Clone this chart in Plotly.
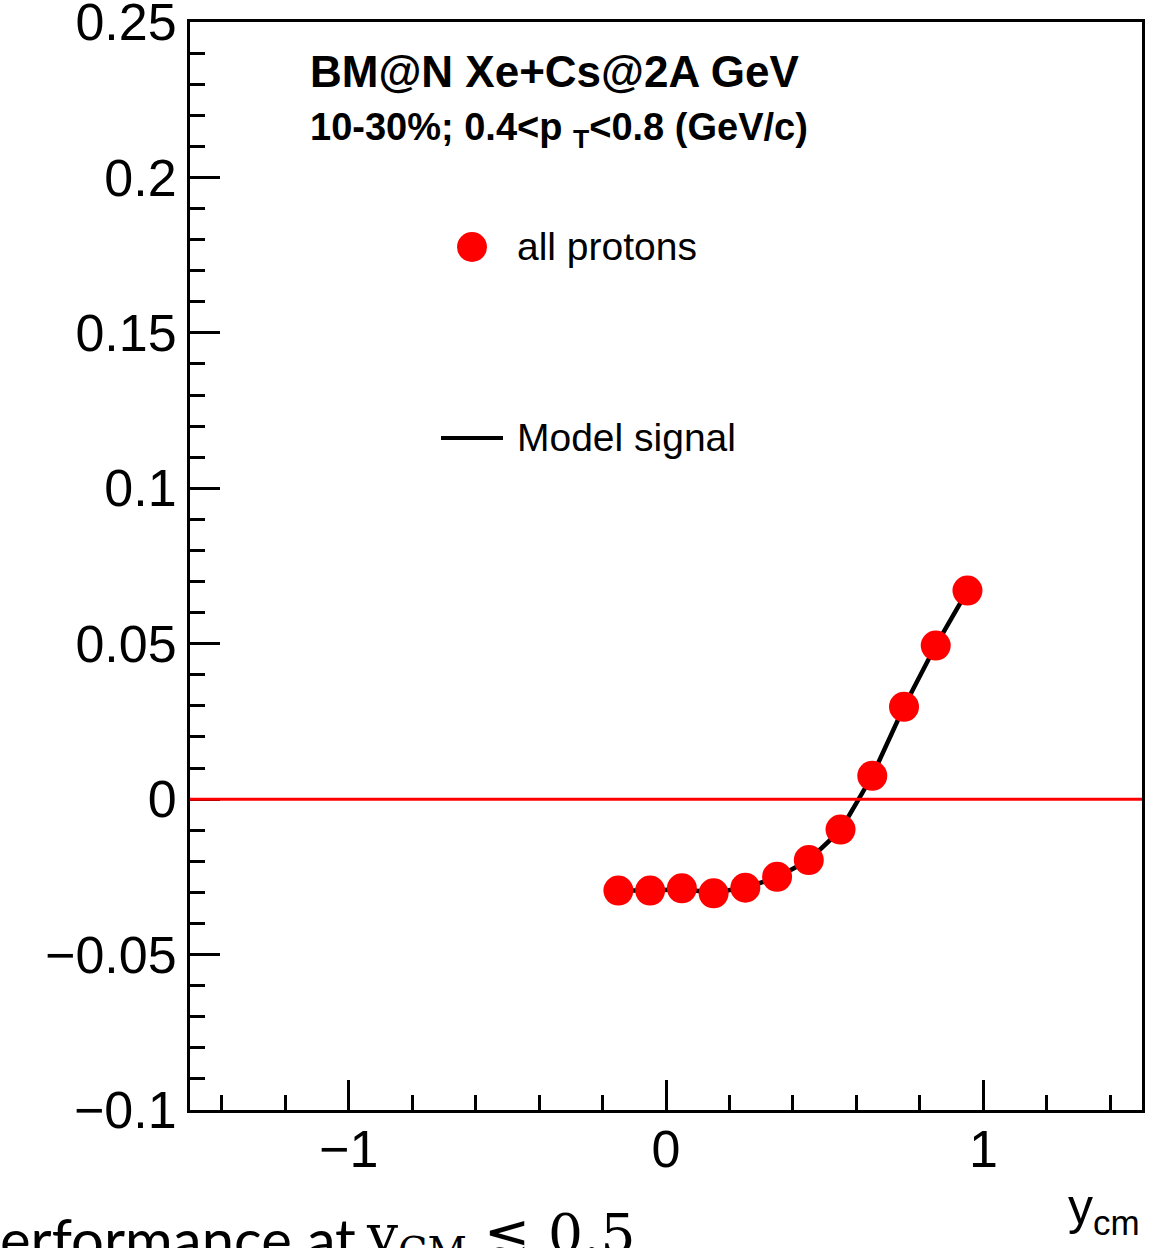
import plotly.graph_objects as go

# data
y_cm = [-0.15, -0.05, 0.05, 0.15, 0.25, 0.35, 0.45, 0.55, 0.65, 0.75, 0.85, 0.95]
v1_protons = [-0.0294, -0.0294, -0.0287, -0.0303, -0.0285, -0.0250, -0.0196, -0.0098, 0.0075, 0.0297, 0.0494, 0.0671]
model_x = [-0.15, -0.05, 0.05, 0.15, 0.25, 0.35, 0.45, 0.55, 0.65, 0.75, 0.85, 0.95]
model_y = [-0.0294, -0.0294, -0.0290, -0.0300, -0.0285, -0.0252, -0.0196, -0.0100, 0.0075, 0.0297, 0.0494, 0.0671]
x_ticks = [-1, 0, 1]
y_ticks = [-0.1, -0.05, 0, 0.05, 0.1, 0.15, 0.2, 0.25]
y_tick_text = ["\u22120.1", "\u22120.05", "0", "0.05", "0.1", "0.15", "0.2", "0.25"]
x_tick_text = ["\u22121", "0", "1"]

FONT = "Liberation Sans"

fig = go.Figure()
fig.add_trace(go.Scatter(x=model_x, y=model_y, mode="lines", name="Model signal",
                         line=dict(color="black", width=4.5), showlegend=False))
fig.add_trace(go.Scatter(x=y_cm, y=v1_protons, mode="markers", name="all protons",
                         marker=dict(color="#ff0000", size=30, line=dict(width=0)),
                         showlegend=False))

# zero line
fig.add_shape(type="line", xref="paper", yref="y", x0=0, x1=1, y0=0, y1=0,
              line=dict(color="#ff0000", width=3), layer="above")

# manual legend symbols
fig.add_shape(type="circle", xref="paper", yref="paper", xsizemode="pixel", ysizemode="pixel",
              xanchor=(472 - 190) / 952, yanchor=(1110 - 247) / 1088,
              x0=-15, x1=15, y0=-15, y1=15, fillcolor="#ff0000", line=dict(width=0))
fig.add_shape(type="line", xref="paper", yref="paper",
              x0=(441 - 190) / 952, x1=(503 - 190) / 952,
              y0=(1110 - 438) / 1088, y1=(1110 - 438) / 1088,
              line=dict(color="black", width=4))

ann = []
ann.append(dict(text="<b>BM@N Xe+Cs@2A GeV</b>", x=(308 - 190) / 952, y=(1110 - 72) / 1088,
                xref="paper", yref="paper", xanchor="left", yanchor="middle", showarrow=False,
                font=dict(family=FONT, size=44, color="black")))
ann.append(dict(text="<b>10-30%; 0.4&lt;p <sub>T</sub>&lt;0.8 (GeV/c)</b>", x=(308 - 190) / 952,
                y=(1110 - 130) / 1088,
                xref="paper", yref="paper", xanchor="left", yanchor="middle", showarrow=False,
                font=dict(family=FONT, size=38, color="black")))
ann.append(dict(text="all protons", x=(515 - 190) / 952, y=(1110 - 246) / 1088,
                xref="paper", yref="paper", xanchor="left", yanchor="middle", showarrow=False,
                font=dict(family=FONT, size=39, color="black")))
ann.append(dict(text="Model signal", x=(515 - 190) / 952, y=(1110 - 437) / 1088,
                xref="paper", yref="paper", xanchor="left", yanchor="middle", showarrow=False,
                font=dict(family=FONT, size=39, color="black")))
ann.append(dict(text="y<sub>cm</sub>", x=1, y=(1110 - 1210) / 1088,
                xref="paper", yref="paper", xanchor="right", yanchor="middle", showarrow=False,
                font=dict(family=FONT, size=50, color="black")))
ann.append(dict(text="erformance at", x=-192 / 952, y=(1110 - 1238) / 1088,
                xref="paper", yref="paper", xanchor="left", yanchor="middle", showarrow=False,
                font=dict(family="Lato", size=58, color="black")))
ann.append(dict(text="y<sub>CM</sub> \u2272 0.5", x=(364 - 190) / 952, y=(1110 - 1238) / 1088,
                xref="paper", yref="paper", xanchor="left", yanchor="middle", showarrow=False,
                font=dict(family="DejaVu Serif", size=55, color="black")))

fig.update_layout(
    width=1159, height=1248,
    margin=dict(l=190, r=17, t=22, b=138),
    plot_bgcolor="white", paper_bgcolor="white",
    font=dict(family=FONT, color="black"),
    annotations=ann,
    showlegend=False,
)
fig.update_xaxes(range=[-1.5, 1.5], tickvals=x_ticks, ticktext=x_tick_text,
                 ticks="inside", ticklen=30, tickwidth=3, tickcolor="black",
                 showline=True, linecolor="black", linewidth=3, mirror=True,
                 showgrid=False, zeroline=False, ticklabelstandoff=-8,
                 ticklabeloverflow="allow", automargin=False,
                 tickfont=dict(family=FONT, size=52, color="black"),
                 minor=dict(dtick=0.2, tick0=0, ticks="inside", ticklen=15, tickwidth=3,
                            tickcolor="black", showgrid=False))
fig.update_yaxes(range=[-0.1, 0.25], tickvals=y_ticks, ticktext=y_tick_text,
                 ticks="inside", ticklen=30, tickwidth=3, tickcolor="black",
                 showline=True, linecolor="black", linewidth=3, mirror=True,
                 showgrid=False, zeroline=False, ticklabeloverflow="allow", automargin=False,
                 tickfont=dict(family=FONT, size=52, color="black"),
                 minor=dict(dtick=0.01, tick0=0, ticks="inside", ticklen=15, tickwidth=3,
                            tickcolor="black", showgrid=False))

fig.write_html("out.html")
